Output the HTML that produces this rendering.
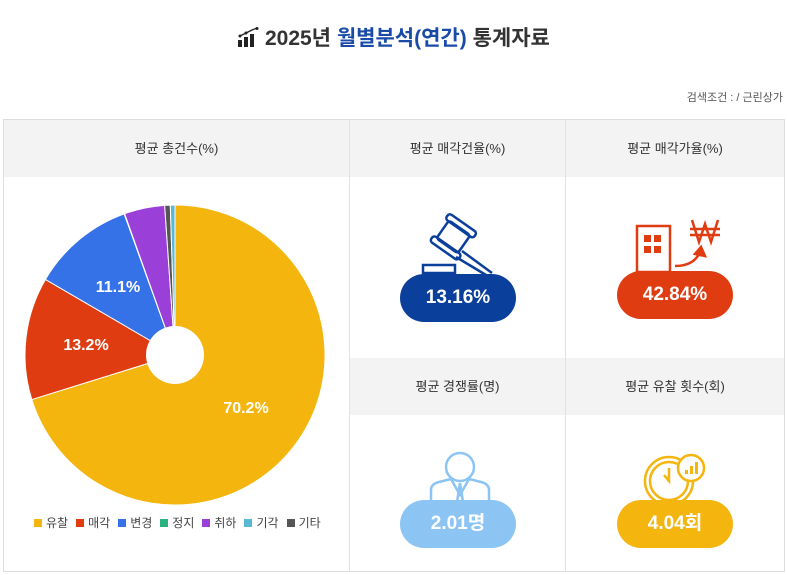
<!DOCTYPE html>
<html><head><meta charset="utf-8"><style>
*{margin:0;padding:0;box-sizing:border-box}
body{width:787px;height:575px;background:#fff;font-family:"Liberation Sans","Noto Sans CJK KR",sans-serif;position:relative;overflow:hidden;color:#333}
.t{position:absolute;top:22px;left:0;width:787px;text-align:center;font-size:21px;font-weight:bold;color:#333}
.t span{color:#1a4ba8}
.s{position:absolute;top:89px;right:4px;font-size:11px;color:#555}
.box{position:absolute;left:3px;top:119px;width:782px;height:453px;border:1px solid #ddd}
.h{position:absolute;background:#f3f3f3;font-size:13px;color:#333;text-align:center;line-height:58px}
.v{position:absolute;background:#e2e2e2}
.p{position:absolute;width:116px;height:48px;border-radius:24px;color:#fff;font-weight:bold;font-size:19px;text-align:center;line-height:48px}
.lg{position:absolute;top:514px;left:26px;font-size:12px;color:#444}
.lg i{display:inline-block;width:8px;height:8px;margin:0 4px 0 8px;vertical-align:0}
</style></head><body>
<div class="t"><svg width="22" height="20" viewBox="0 0 22 20" style="vertical-align:-2px"><rect x="1" y="13" width="4" height="7" fill="#222"/><rect x="7" y="10" width="4" height="10" fill="#222"/><rect x="13" y="7" width="4" height="13" fill="#222"/><polyline points="3,9 9,6 15,3 20,1" fill="none" stroke="#222" stroke-width="1.3"/><circle cx="3" cy="9" r="1.5" fill="#222"/><circle cx="9" cy="6" r="1.5" fill="#222"/><circle cx="20" cy="1.5" r="1.5" fill="#222"/></svg> 2025년 <span>월별분석(연간)</span> 통계자료</div>
<div class="s">검색조건 : / 근린상가</div>
<div class="box"></div>
<div class="h" style="left:4px;top:120px;width:345px;height:57px">평균 총건수(%)</div>
<div class="h" style="left:350px;top:120px;width:215px;height:57px">평균 매각건율(%)</div>
<div class="h" style="left:566px;top:120px;width:218px;height:57px">평균 매각가율(%)</div>
<div class="h" style="left:350px;top:358px;width:215px;height:57px">평균 경쟁률(명)</div>
<div class="h" style="left:566px;top:358px;width:218px;height:57px">평균 유찰 횟수(회)</div>
<div class="v" style="left:349px;top:120px;width:1px;height:452px"></div>
<div class="v" style="left:565px;top:120px;width:1px;height:452px"></div>
<svg id="pie" style="position:absolute;left:0;top:0" width="787" height="575"></svg>
<svg style="position:absolute;left:420px;top:213px" width="80" height="65" viewBox="0 0 80 65" fill="none" stroke="#0b3f9c" stroke-width="2.5"><g transform="rotate(35 35 25)"><rect x="20" y="14" width="26" height="22" rx="3"/><rect x="16" y="8" width="34" height="7" rx="3"/><rect x="16" y="35" width="34" height="7" rx="3"/></g><line x1="42" y1="38" x2="72" y2="60"/><line x1="36" y1="44" x2="66" y2="62"/><rect x="3" y="52" width="32" height="8"/></svg>
<div class="p" style="left:400px;top:274px;background:#0b3f9c">13.16%</div>
<svg style="position:absolute;left:632px;top:214px" width="92" height="62" viewBox="0 0 92 62" fill="none" stroke="#e03c12" stroke-width="2.5"><rect x="5" y="12" width="33" height="46"/><g fill="#e03c12" stroke="none"><rect x="12" y="21" width="7" height="7"/><rect x="22" y="21" width="7" height="7"/><rect x="12" y="32" width="7" height="7"/><rect x="22" y="32" width="7" height="7"/></g><path d="M43 52 Q62 52 68 38"/><path d="M63 40 L69 33 L73 42 Z" fill="#e03c12"/><path d="M60 6 L67 28 L73 10 L79 28 L86 6 M58 15 H88 M58 21 H88"/></svg>
<div class="p" style="left:617px;top:271px;background:#e03c12">42.84%</div>
<svg style="position:absolute;left:425px;top:450px" width="70" height="55" viewBox="0 0 70 55" fill="none" stroke="#8cc4f3" stroke-width="2.5"><circle cx="35" cy="17" r="14"/><path d="M6 52 V40 Q6 34 14 32 L26 29 L35 45 L44 29 L56 32 Q64 34 64 40 V52"/><path d="M35 33 L32 52 M35 33 L38 52"/></svg>
<div class="p" style="left:400px;top:500px;background:#8cc4f3">2.01명</div>
<svg style="position:absolute;left:643px;top:451px" width="66" height="56" viewBox="0 0 66 56" fill="none" stroke="#f5b50f" stroke-width="2.5"><circle cx="26" cy="30" r="24"/><circle cx="26" cy="30" r="19"/><path d="M26 17 V30 L21 24"/><circle cx="48" cy="17" r="13" fill="#fff"/><g fill="#f5b50f" stroke="none"><rect x="42" y="19" width="3" height="4"/><rect x="47" y="15" width="3" height="8"/><rect x="52" y="11" width="3" height="12"/></g></svg>
<div class="p" style="left:617px;top:500px;background:#f5b50f">4.04회</div>
<div class="lg"><i style="background:#f5b50f"></i>유찰<i style="background:#e03c12"></i>매각<i style="background:#3572e8"></i>변경<i style="background:#2bb07f"></i>정지<i style="background:#9b3fd9"></i>취하<i style="background:#59b8d4"></i>기각<i style="background:#555"></i>기타</div>
<script>
var d=[[70.2,"#f5b50f"],[13.2,"#e03c12"],[11.1,"#3572e8"],[0.05,"#2bb07f"],[4.35,"#9b3fd9"],[0.6,"#555"],[0.5,"#59b8d4"]];
var cx=175,cy=355,r=150,a=0,s="";
function pt(t){return [cx+r*Math.sin(t),cy-r*Math.cos(t)]}
d.forEach(function(e){var t0=a/100*2*Math.PI;a+=e[0];var t1=a/100*2*Math.PI;var p0=pt(t0),p1=pt(t1);
s+='<path d="M'+cx+' '+cy+' L'+p0[0]+' '+p0[1]+' A'+r+' '+r+' 0 '+(e[0]>50?1:0)+' 1 '+p1[0]+' '+p1[1]+' Z" fill="'+e[1]+'" stroke="#fff" stroke-width="1"/>';});
s+='<circle cx="175" cy="355" r="29" fill="#fff"/>';
s+='<g font-weight="bold" font-size="16" fill="#fff" text-anchor="middle" font-family="Liberation Sans,sans-serif"><text x="246" y="413">70.2%</text><text x="86" y="350">13.2%</text><text x="118" y="292">11.1%</text></g>';
document.getElementById("pie").innerHTML=s;
</script>
</body></html>
